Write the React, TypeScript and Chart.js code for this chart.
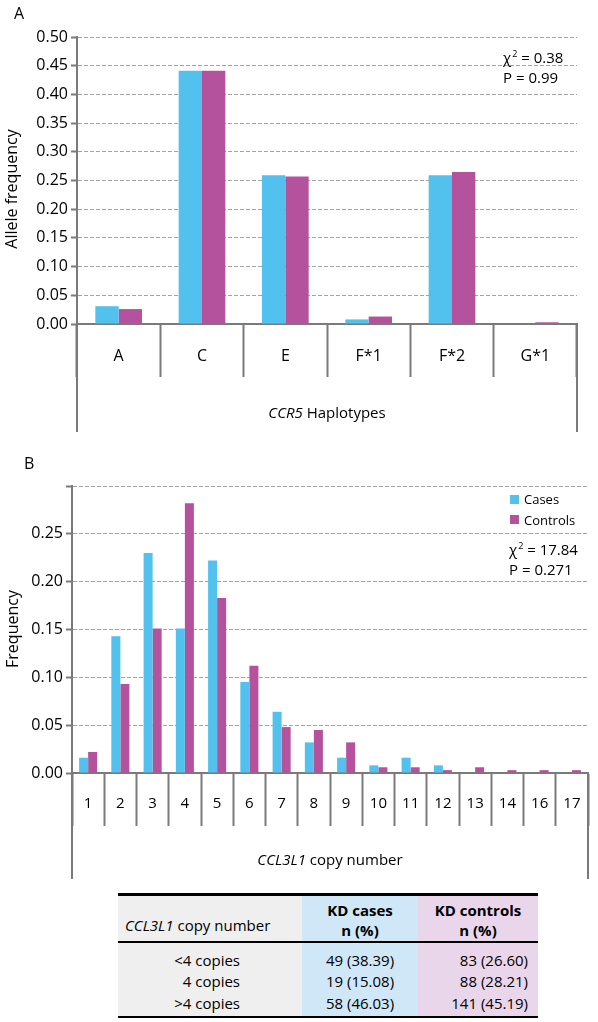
import React, { useEffect, useRef } from "react";
import { Chart, registerables } from "chart.js";

Chart.register(...registerables);

// ---------- Data ----------
const haplotypes = ["A", "C", "E", "F*1", "F*2", "G*1"];
const haploCases = [0.031, 0.441, 0.259, 0.008, 0.259, 0.0];
const haploControls = [0.026, 0.441, 0.257, 0.013, 0.265, 0.003];
const haploTickValues = [0, 0.05, 0.1, 0.15, 0.2, 0.25, 0.3, 0.35, 0.4, 0.45, 0.5];
const haploTickLabels = ["0.00", "0.05", "0.10", "0.15", "0.20", "0.25", "0.30", "0.35", "0.40", "0.45", "0.50"];

const copyNumbers = ["1", "2", "3", "4", "5", "6", "7", "8", "9", "10", "11", "12", "13", "14", "16", "17"];
const copyCases = [0.016, 0.143, 0.23, 0.151, 0.222, 0.095, 0.064, 0.032, 0.016, 0.008, 0.016, 0.008, 0, 0, 0, 0];
const copyControls = [0.022, 0.093, 0.151, 0.282, 0.183, 0.112, 0.048, 0.045, 0.032, 0.006, 0.006, 0.003, 0.006, 0.003, 0.003, 0.003];
const copyTickValues = [0, 0.05, 0.1, 0.15, 0.2, 0.25, 0.3];
const copyTickLabels = ["0.00", "0.05", "0.10", "0.15", "0.20", "0.25", ""];

const seriesNames = ["Cases", "Controls"];
const statsA = ["0.38", "0.99"];
const statsB = ["17.84", "0.271"];

const tableRowLabels = ["<4 copies", "4 copies", ">4 copies"];
const tableKdCases = ["49 (38.39)", "19 (15.08)", "58 (46.03)"];
const tableKdControls = ["83 (26.60)", "88 (28.21)", "141 (45.19)"];

// ---------- Styles ----------
const FONT = "'Open Sans', sans-serif";
const CYAN = "#52c1ed";
const MAGENTA = "#b5529d";
const AXIS = "#7a7a7a";
const GRID = "#a3a3a3";

const boxLines = {
  id: "boxLines",
  afterDraw(chart: any) {
    const { ctx, chartArea, scales } = chart;
    const xs = scales.x;
    ctx.save();
    ctx.strokeStyle = AXIS;
    ctx.lineWidth = 2;
    ctx.beginPath();
    ctx.moveTo(chartArea.left, chartArea.bottom);
    ctx.lineTo(chartArea.left, xs.bottom);
    ctx.moveTo(chartArea.right, chartArea.bottom);
    ctx.lineTo(chartArea.right, xs.bottom);
    ctx.stroke();
    ctx.restore();
  },
};

type PanelOpts = {
  labels: string[];
  cases: number[];
  controls: number[];
  tickValues: number[];
  tickLabels: string[];
  yWidth: number;
  xHeight: number;
  padding: { left: number; right: number; top: number; bottom: number };
  xFontSize: number;
  xTickLength: number;
  xLabelPadding: number;
};

function buildConfig(o: PanelOpts): any {
  return {
    type: "bar",
    data: {
      labels: o.labels,
      datasets: [
        { label: seriesNames[0], data: o.cases, backgroundColor: CYAN, borderWidth: 0 },
        { label: seriesNames[1], data: o.controls, backgroundColor: MAGENTA, borderWidth: 0 },
      ],
    },
    options: {
      responsive: false,
      animation: false,
      devicePixelRatio: 1,
      layout: { padding: o.padding },
      datasets: { bar: { categoryPercentage: 0.56, barPercentage: 1.0 } },
      plugins: { legend: { display: false }, tooltip: { enabled: false } },
      scales: {
        x: {
          type: "category",
          offset: true,
          grid: {
            offset: true,
            drawOnChartArea: false,
            drawTicks: true,
            tickLength: o.xTickLength,
            tickColor: AXIS,
            tickWidth: 2,
            color: AXIS,
          },
          border: { display: true, color: AXIS, width: 2 },
          ticks: {
            autoSkip: false,
            maxRotation: 0,
            minRotation: 0,
            padding: o.xLabelPadding,
            color: "#000",
            font: { family: FONT, size: o.xFontSize },
          },
          afterFit: (s: any) => {
            s.height = o.xHeight;
          },
        },
        y: {
          min: o.tickValues[0],
          max: o.tickValues[o.tickValues.length - 1],
          afterBuildTicks: (s: any) => {
            s.ticks = o.tickValues.map((v) => ({ value: v }));
          },
          grid: {
            color: GRID,
            lineWidth: 1,
            drawTicks: true,
            tickLength: 6,
            tickColor: AXIS,
            tickWidth: 2,
          },
          border: { display: true, color: AXIS, width: 2, dash: [4, 2] },
          ticks: {
            padding: 3,
            color: "#000",
            font: { family: FONT, size: 16 },
            callback: (_v: any, i: number) => o.tickLabels[i],
          },
          afterFit: (s: any) => {
            s.width = o.yWidth;
          },
        },
      },
    },
    plugins: [boxLines],
  };
}

function ChartPanel({ top, height, opts }: { top: number; height: number; opts: PanelOpts }) {
  const ref = useRef<HTMLCanvasElement | null>(null);
  useEffect(() => {
    if (!ref.current) return;
    const chart = new Chart(ref.current, buildConfig(opts));
    return () => chart.destroy();
  }, []);
  return (
    <canvas
      ref={ref}
      width={598}
      height={height}
      style={{ position: "absolute", left: 0, top, width: 598, height }}
    />
  );
}

const T = (x: number, cy: number, content: React.ReactNode, extra: React.CSSProperties = {}) => (
  <div
    style={{
      position: "absolute",
      left: x,
      top: cy - 10,
      height: 20,
      lineHeight: "20px",
      whiteSpace: "nowrap",
      ...extra,
    }}
  >
    {content}
  </div>
);

const Sup2 = () => (
  <span style={{ fontSize: 9, position: "relative", top: -6, marginLeft: 1 }}>2</span>
);

export default function App() {
  const optsA: PanelOpts = {
    labels: haplotypes,
    cases: haploCases,
    controls: haploControls,
    tickValues: haploTickValues,
    tickLabels: haploTickLabels,
    yWidth: 77,
    xHeight: 108,
    padding: { left: 0, right: 21, top: 37, bottom: 8 },
    xFontSize: 16,
    xTickLength: 53,
    xLabelPadding: -30,
  };
  const optsB: PanelOpts = {
    labels: copyNumbers,
    cases: copyCases,
    controls: copyControls,
    tickValues: copyTickValues,
    tickLabels: copyTickLabels,
    yWidth: 72,
    xHeight: 106,
    padding: { left: 0, right: 10, top: 46, bottom: 11 },
    xFontSize: 15,
    xTickLength: 53,
    xLabelPadding: -31,
  };

  const colLeft = 118;
  const col2 = 302;
  const col3 = 418;
  const colRight = 538;
  const tTop = 893;
  const tBottom = 1018;
  const rowCenters = [959.5, 981, 1002.5];

  return (
    <div
      style={{
        position: "absolute",
        left: 0,
        top: 0,
        width: 598,
        height: 1022,
        fontFamily: FONT,
        color: "#000",
        overflow: "hidden",
      }}
    >
      <ChartPanel top={0} height={440} opts={optsA} />
      <ChartPanel top={440} height={450} opts={optsB} />

      {/* Panel A annotations */}
      {T(14, 13, "A", { fontSize: 16 })}
      <div
        style={{
          position: "absolute",
          left: 11 - 80,
          top: 189 - 10,
          width: 160,
          height: 20,
          lineHeight: "20px",
          textAlign: "center",
          fontSize: 16,
          transform: "rotate(-90deg)",
        }}
      >
        Allele frequency
      </div>
      {T(503, 57, <span>χ<Sup2 /> = {statsA[0]}</span>, { fontSize: 15 })}
      {T(503, 77, <span>P = {statsA[1]}</span>, { fontSize: 15 })}
      <div
        style={{
          position: "absolute",
          left: 77,
          width: 500,
          top: 412 - 10,
          lineHeight: "20px",
          textAlign: "center",
          fontSize: 15,
        }}
      >
        <i>CCR5</i> Haplotypes
      </div>

      {/* Panel B annotations */}
      {T(24, 463, "B", { fontSize: 16 })}
      <div
        style={{
          position: "absolute",
          left: 12 - 80,
          top: 629 - 10,
          width: 160,
          height: 20,
          lineHeight: "20px",
          textAlign: "center",
          fontSize: 16,
          transform: "rotate(-90deg)",
        }}
      >
        Frequency
      </div>
      <div style={{ position: "absolute", left: 510, top: 495, width: 9, height: 9, background: CYAN }} />
      {T(524, 499, seriesNames[0], { fontSize: 13 })}
      <div style={{ position: "absolute", left: 510, top: 515, width: 9, height: 9, background: MAGENTA }} />
      {T(524, 520, seriesNames[1], { fontSize: 13 })}
      {T(509, 549, <span>χ<Sup2 /> = {statsB[0]}</span>, { fontSize: 15 })}
      {T(509, 569, <span>P = {statsB[1]}</span>, { fontSize: 15 })}
      <div
        style={{
          position: "absolute",
          left: 72,
          width: 516,
          top: 859 - 10,
          lineHeight: "20px",
          textAlign: "center",
          fontSize: 15,
        }}
      >
        <i>CCL3L1</i> copy number
      </div>

      {/* Table */}
      <div style={{ position: "absolute", left: colLeft, top: tTop, width: col2 - colLeft, height: tBottom - tTop, background: "#efefef" }} />
      <div style={{ position: "absolute", left: col2, top: tTop, width: col3 - col2, height: tBottom - tTop, background: "#cfe7f7" }} />
      <div style={{ position: "absolute", left: col3, top: tTop, width: colRight - col3, height: tBottom - tTop, background: "#ead6ea" }} />
      <div style={{ position: "absolute", left: colLeft, top: tTop, width: colRight - colLeft, height: 3, background: "#000" }} />
      <div style={{ position: "absolute", left: colLeft, top: 941, width: colRight - colLeft, height: 2, background: "#000" }} />
      <div style={{ position: "absolute", left: colLeft, top: 1016, width: colRight - colLeft, height: 2, background: "#000" }} />

      {T(125, 925, <span><i>CCL3L1</i> copy number</span>, { fontSize: 15 })}
      <div style={{ position: "absolute", left: col2, width: col3 - col2, top: 900, lineHeight: "20px", textAlign: "center", fontSize: 15, fontWeight: 700 }}>
        KD cases<br />n (%)
      </div>
      <div style={{ position: "absolute", left: col3, width: colRight - col3, top: 900, lineHeight: "20px", textAlign: "center", fontSize: 15, fontWeight: 700 }}>
        KD controls<br />n (%)
      </div>
      {tableRowLabels.map((lab, i) => (
        <div key={"r" + i} style={{ position: "absolute", left: colLeft, width: 240 - colLeft, top: rowCenters[i] - 10, lineHeight: "20px", textAlign: "right", fontSize: 15, whiteSpace: "nowrap" }}>
          {lab}
        </div>
      ))}
      {tableKdCases.map((v, i) => (
        <div key={"c" + i} style={{ position: "absolute", left: col2, width: col3 - col2, top: rowCenters[i] - 10, lineHeight: "20px", textAlign: "center", fontSize: 15, whiteSpace: "nowrap" }}>
          {v}
        </div>
      ))}
      {tableKdControls.map((v, i) => (
        <div key={"k" + i} style={{ position: "absolute", left: col3, width: 528 - col3, top: rowCenters[i] - 10, lineHeight: "20px", textAlign: "right", fontSize: 15, whiteSpace: "nowrap" }}>
          {v}
        </div>
      ))}
    </div>
  );
}
